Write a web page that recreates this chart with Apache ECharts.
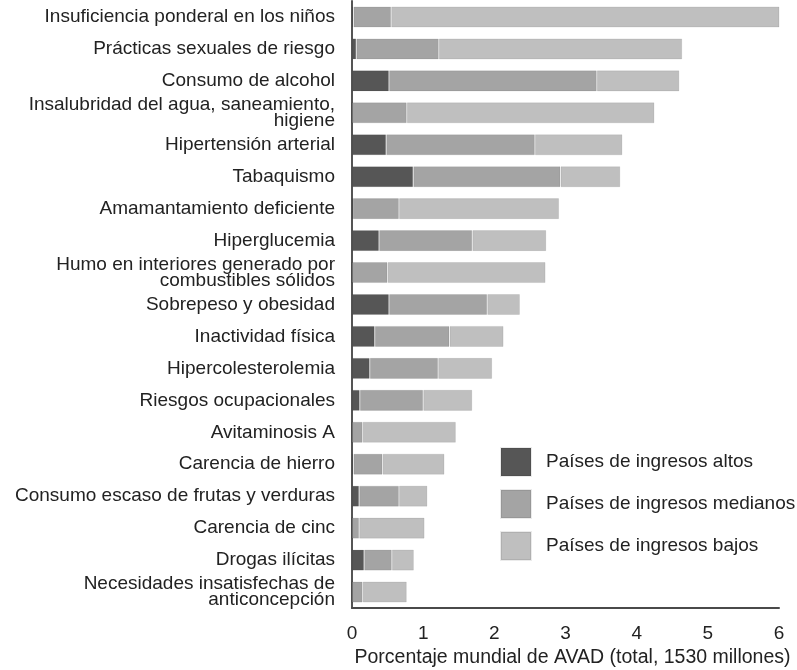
<!DOCTYPE html>
<html>
<head>
<meta charset="utf-8">
<script src="https://cdn.jsdelivr.net/npm/echarts@6/dist/echarts.min.js"></script>
<style>
  html, body { margin: 0; padding: 0; background: #fff; }
  #chart { width: 797px; height: 670px; }
</style>
</head>
<body>
<div id="chart"></div>
<script>
const FONT_FAMILY = "'Liberation Sans', Arial, sans-serif"

const categories = [
  'Insuficiencia ponderal en los niños',
  'Prácticas sexuales de riesgo',
  'Consumo de alcohol',
  'Insalubridad del agua, saneamiento,\nhigiene',
  'Hipertensión arterial',
  'Tabaquismo',
  'Amamantamiento deficiente',
  'Hiperglucemia',
  'Humo en interiores generado por\ncombustibles sólidos',
  'Sobrepeso y obesidad',
  'Inactividad física',
  'Hipercolesterolemia',
  'Riesgos ocupacionales',
  'Avitaminosis A',
  'Carencia de hierro',
  'Consumo escaso de frutas y verduras',
  'Carencia de cinc',
  'Drogas ilícitas',
  'Necesidades insatisfechas de\nanticoncepción',
]

const seriesNames = ['Países de ingresos altos', 'Países de ingresos medianos', 'Países de ingresos bajos']

// porcentaje mundial de AVAD por grupo de países
const altos = [0.02, 0.06, 0.52, 0, 0.48, 0.86, 0.01, 0.38, 0, 0.52, 0.32, 0.25, 0.11, 0, 0.02, 0.10, 0, 0.17, 0]
const medianos = [0.53, 1.16, 2.92, 0.77, 2.09, 2.07, 0.65, 1.31, 0.50, 1.38, 1.05, 0.96, 0.89, 0.15, 0.41, 0.56, 0.10, 0.39, 0.15]
const bajos = [5.46, 3.42, 1.16, 3.48, 1.23, 0.84, 2.25, 1.04, 2.22, 0.46, 0.76, 0.76, 0.69, 1.31, 0.87, 0.40, 0.92, 0.31, 0.62]

const xTicks = [0, 1, 2, 3, 4, 5, 6]

const COLORS = ['#565656', '#a4a4a4', '#bfbfbf']
const TEXT = '#222'

const chart = echarts.init(document.getElementById('chart'))

const makeSeries = (name, data, i) => ({
  name,
  type: 'bar',
  stack: 'total',
  data,
  barWidth: '66%',
  itemStyle: { color: COLORS[i], borderColor: 'rgba(0,0,0,0.08)', borderWidth: 1 },
  emphasis: { disabled: true },
})

chart.setOption({
  animation: false,
  textStyle: { fontFamily: FONT_FAMILY },
  grid: { left: 352, right: 18, top: 1, bottom: 62, containLabel: false, outerBoundsMode: 'none' },
  legend: {
    orient: 'vertical',
    left: 500,
    top: 447,
    padding: 0,
    itemWidth: 30,
    itemHeight: 28,
    itemGap: 12,
    icon: 'rect',
    data: seriesNames,
    textStyle: { fontFamily: FONT_FAMILY, fontSize: 19, color: TEXT, padding: [0, 0, 0, 10] },
  },
  xAxis: {
    type: 'value',
    min: 0,
    max: 6,
    interval: 1,
    name: 'Porcentaje mundial de AVAD (total, 1530 millones)',
    nameLocation: 'middle',
    nameGap: 40,
    nameTextStyle: { fontFamily: FONT_FAMILY, fontSize: 19.5, color: TEXT, padding: [0, 0, 0, 14] },
    axisLine: { show: true, lineStyle: { color: '#4a4a4a', width: 2 } },
    axisTick: { show: false },
    splitLine: { show: false },
    axisLabel: {
      fontFamily: FONT_FAMILY,
      fontSize: 19,
      color: TEXT,
      margin: 16,
      formatter: v => (xTicks.includes(v) ? String(v) : ''),
    },
  },
  yAxis: {
    type: 'category',
    inverse: true,
    data: categories,
    axisLine: { show: true, lineStyle: { color: '#555', width: 2 } },
    axisTick: { show: false },
    axisLabel: {
      fontFamily: FONT_FAMILY,
      fontSize: 19,
      color: TEXT,
      margin: 17,
      lineHeight: 16,
      padding: [4, 0, 0, 0],
      interval: 0,
    },
  },
  series: [
    makeSeries(seriesNames[0], altos, 0),
    makeSeries(seriesNames[1], medianos, 1),
    makeSeries(seriesNames[2], bajos, 2),
  ],
})
</script>
</body>
</html>
